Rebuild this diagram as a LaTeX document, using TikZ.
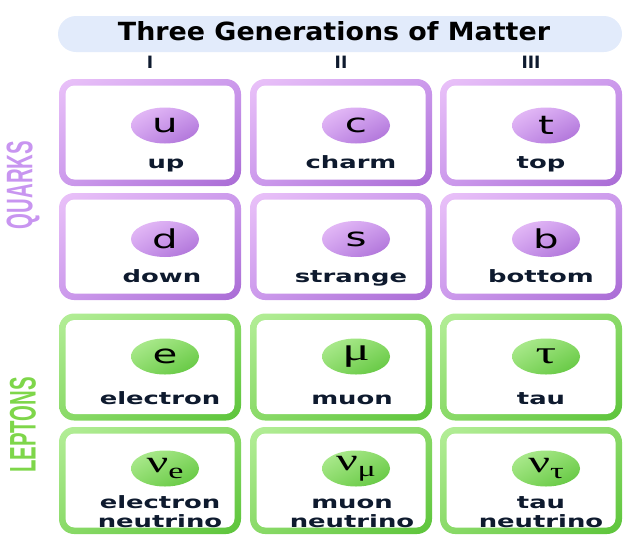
\documentclass[tikz,border=0pt]{standalone}
\usepackage{fontspec}
\usepackage{graphicx}
\setmainfont{DejaVu Sans}
\newfontfamily\grfont{Liberation Serif}
\newfontfamily\sidefont{Liberation Sans}
\usetikzlibrary{shapes.geometric,shadings}
\definecolor{pl}{HTML}{EAC2F9}
\definecolor{pm}{HTML}{CC9AEC}
\definecolor{pd}{HTML}{A96BD5}
\definecolor{gl}{HTML}{B4EE98}
\definecolor{gm}{HTML}{8ADA68}
\definecolor{gd}{HTML}{5CC43A}
\definecolor{barblue}{HTML}{E2EBFB}
\definecolor{navy}{HTML}{0E1A2E}
\definecolor{qcol}{HTML}{C895F0}
\definecolor{lcol}{HTML}{7ED64A}
\newcommand\lblx[1]{\scalebox{1.52}[1]{\fontsize{17}{19}\selectfont\bfseries\begin{tabular}[b]{@{}c@{}}#1\end{tabular}}}
\newcommand\ltr[1]{\scalebox{1.55}[1]{\fontsize{26}{28}\selectfont #1}}
\newcommand\grk[1]{\scalebox{1.6}[1]{\fontsize{32}{34}\selectfont\grfont #1}}
\newcommand\nusub[1]{\scalebox{1.55}[1]{\fontsize{31}{33}\selectfont\grfont ν\raisebox{-6pt}{\fontsize{22}{24}\selectfont #1}}}
\tikzset{
  outerP/.style={shade, upper left=pl, lower right=pd, upper right=pm, lower left=pm,
    rounded corners=15pt, minimum width=182pt, minimum height=107pt, inner sep=0pt},
  outerG/.style={shade, upper left=gl, lower right=gd, upper right=gm, lower left=gm,
    rounded corners=15pt, minimum width=182pt, minimum height=107pt, inner sep=0pt},
  innerbox/.style={fill=white, rounded corners=9pt, minimum width=169pt, minimum height=94pt, inner sep=0pt},
  partP/.style={ellipse, shade, upper left=pl, lower right=pd, upper right=pm, lower left=pm,
    minimum width=68pt, minimum height=36pt, inner sep=0pt, text=black},
  partG/.style={ellipse, shade, upper left=gl, lower right=gd, upper right=gm, lower left=gm,
    minimum width=68pt, minimum height=36pt, inner sep=0pt, text=black},
  lbl/.style={anchor=base, inner sep=0pt, text=navy},
  numeral/.style={anchor=base, inner sep=0pt, text=navy, font=\fontsize{17}{18}\selectfont\bfseries},
}
\begin{document}
\begin{tikzpicture}[x=1pt, y=-1pt]
\useasboundingbox (0,0) rectangle (639,544);
% title bar
\node[fill=barblue, rounded corners=18pt, minimum width=564pt, minimum height=36pt, inner sep=0pt] (bar) at (340,34) {};
\node[anchor=base, inner sep=0pt] (title) at (334,40) {\scalebox{1.075}[1]{\fontsize{25}{28}\selectfont\bfseries Three Generations of Matter}};
\node[numeral] (g1) at (150,68) {I};
\node[numeral] (g2) at (341,68) {II};
\node[numeral] (g3) at (531,68) {III};
% side labels
\node[rotate=90, inner sep=0pt, text=qcol] (quarks) at (23,185) {\scalebox{0.55}[1]{\fontsize{37}{40}\selectfont\sidefont\bfseries QUARKS}};
\node[rotate=90, inner sep=0pt, text=lcol] (leptons) at (23,425) {\scalebox{0.55}[1]{\fontsize{37}{40}\selectfont\sidefont\bfseries LEPTONS}};
% boxes
\foreach \cx/\n in {150/1,341/2,531/3}{
  \node[outerP] (bq\n) at (\cx,132.5) {};
  \node[innerbox] at (bq\n) {};
  \node[outerP] (bd\n) at (\cx,246.5) {};
  \node[innerbox] at (bd\n) {};
  \node[outerG] (bl\n) at (\cx,367) {};
  \node[innerbox] at (bl\n) {};
  \node[outerG] (bn\n) at (\cx,480.5) {};
  \node[innerbox] at (bn\n) {};
}
% row 1
\node[partP] (u) at (165,125.5) {\ltr{u}};
\node[partP] (c) at (356,125.5) {\ltr{c}};
\node[partP] (t) at (546,125.5) {\ltr{t}};
\node[lbl] (up) at (166,168) {\lblx{up}};
\node[lbl] (charm) at (351,168) {\lblx{charm}};
\node[lbl] (top) at (541,168) {\lblx{top}};
% row 2
\node[partP] (d) at (165,239) {\ltr{d}};
\node[partP] (s) at (356,239) {\ltr{s}};
\node[partP] (b) at (546,239) {\ltr{b}};
\node[lbl] (down) at (162,282) {\lblx{down}};
\node[lbl] (strange) at (351,282) {\lblx{strange}};
\node[lbl] (bottom) at (541,282) {\lblx{bottom}};
% row 3
\node[partG] (e) at (165,356.5) {\ltr{e}};
\node[partG] (mu) at (356,356.5) {\grk{μ}};
\node[partG] (tau) at (546,356.5) {\grk{τ}};
\node[lbl] (electron) at (160,404) {\lblx{electron}};
\node[lbl] (muon) at (352,404) {\lblx{muon}};
\node[lbl] (tauname) at (541,404) {\lblx{tau}};
% row 4
\node[partG] (nue) at (165,468.5) {\nusub{e}};
\node[partG] (numu) at (356,468.5) {\nusub{μ}};
\node[partG] (nutau) at (546,468.5) {\nusub{τ}};
\node[lbl] (enu) at (160,527.5) {\lblx{electron\\neutrino}};
\node[lbl] (munu) at (352,527.5) {\lblx{muon\\neutrino}};
\node[lbl] (taunu) at (541,527.5) {\lblx{tau\\neutrino}};
\end{tikzpicture}
\end{document}
